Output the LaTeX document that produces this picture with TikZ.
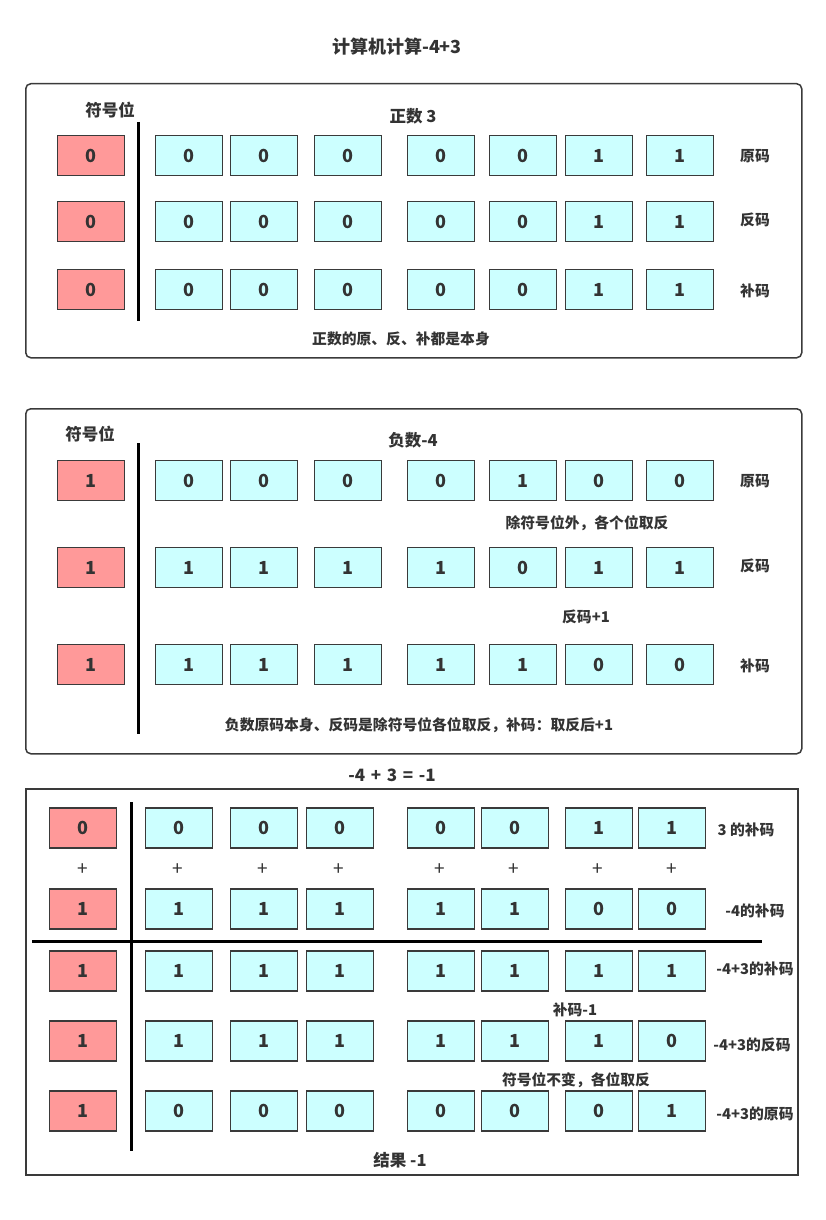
\documentclass[tikz,border=0pt]{standalone}
\usepackage{fontspec}
\setmainfont{Noto Sans CJK SC}
\definecolor{redf}{HTML}{FF9999}
\definecolor{cyanf}{HTML}{CCFFFF}
\definecolor{strk}{HTML}{3A3A3A}
\definecolor{txt}{HTML}{333333}
\tikzset{
  bitbox/.style={draw=strk, line width=1.6pt, minimum width=67pt, minimum height=40pt, inner sep=0pt, text=txt, font=\fontsize{18}{18}\selectfont\bfseries},
  sbox/.style={bitbox, fill=redf},
  dbox/.style={bitbox, fill=cyanf},
  lbl/.style={text=txt, inner sep=0pt, font=\fontsize{14.8}{15}\selectfont\bfseries},
  plus/.style={text=txt, inner sep=0pt, font=\fontsize{19}{19}\selectfont},
  hdr/.style={text=txt, inner sep=0pt, font=\fontsize{16.5}{17}\selectfont\bfseries},
  ttl/.style={text=txt, inner sep=0pt, font=\fontsize{18}{18}\selectfont\bfseries},
  panel/.style={draw=strk, line width=1.5pt, rounded corners=5pt},
  sep/.style={draw=black, line width=3pt},
}
\newcommand{\bitrow}[3]{\foreach \x/\v [count=\i] in {#3} {\node[dbox] (#1-\i) at (\x,#2) {\v};}}
\begin{document}
\begin{tikzpicture}[x=1pt,y=-1pt]
\useasboundingbox (0,0) rectangle (826,1220);
\node[ttl] (title) at (397,47) {计算机计算-4+3};
% ---------- panel 1
\node[panel, minimum width=776pt, minimum height=274pt, anchor=north west] (P1) at (25,83) {};
\node[hdr] (p1sign) at (110,110) {符号位};
\node[hdr] (p1head) at (413,116) {正数 3};
\coordinate (p1vt) at (138,122);
\coordinate (p1vb) at (138,321);
\draw[sep] (p1vt) -- (p1vb);
\node[sbox] (p1a-s) at (91,155.5) {0};
\bitrow{p1a}{155.5}{189/0,264/0,348/0,441/0,523/0,599/1,680/1}
\node[sbox] (p1b-s) at (91,221.5) {0};
\bitrow{p1b}{221.5}{189/0,264/0,348/0,441/0,523/0,599/1,680/1}
\node[sbox] (p1c-s) at (91,289.5) {0};
\bitrow{p1c}{289.5}{189/0,264/0,348/0,441/0,523/0,599/1,680/1}
\node[lbl] (p1l1) at (755,156) {原码};
\node[lbl] (p1l2) at (755,220) {反码};
\node[lbl] (p1l3) at (755,291) {补码};
\node[lbl] (p1note) at (401,339) {正数的原、反、补都是本身};
% ---------- panel 2
\node[panel, minimum width=776pt, minimum height=345pt, anchor=north west] (P2) at (25,408) {};
\node[hdr] (p2sign) at (90,434) {符号位};
\node[hdr] (p2head) at (413,440) {负数-4};
\coordinate (p2vt) at (138,443);
\coordinate (p2vb) at (138,734);
\draw[sep] (p2vt) -- (p2vb);
\node[sbox] (p2a-s) at (91,480.5) {1};
\bitrow{p2a}{480.5}{189/0,264/0,348/0,441/0,523/1,599/0,680/0}
\node[sbox] (p2b-s) at (91,567.5) {1};
\bitrow{p2b}{567.5}{189/1,264/1,348/1,441/1,523/0,599/1,680/1}
\node[sbox] (p2c-s) at (91,664.5) {1};
\bitrow{p2c}{664.5}{189/1,264/1,348/1,441/1,523/1,599/0,680/0}
\node[lbl] (p2l1) at (755,481) {原码};
\node[lbl] (p2l2) at (755,566) {反码};
\node[lbl] (p2l3) at (755,666) {补码};
\node[lbl] (p2n1) at (587,523) {除符号位外，各个位取反};
\node[lbl] (p2n2) at (586,617) {反码+1};
\node[lbl] (p2note) at (419,725) {负数原码本身、反码是除符号位各位取反，补码：取反后+1};
% ---------- panel 3
\node[ttl, font=\fontsize{17}{17}\selectfont\bfseries] (p3head) at (392,775) {-4\,\,+\,\,3\,\,=\,\,-1};
\node[draw=strk, line width=1.5pt, minimum width=772pt, minimum height=386pt, anchor=north west] (P3) at (25,788) {};
\coordinate (p3vt) at (131,802);
\coordinate (p3vb) at (131,1151);
\draw[sep] (p3vt) -- (p3vb);
\coordinate (p3hl) at (32,941);
\coordinate (p3hr) at (762,941);
\draw[sep] (p3hl) -- (p3hr);
\node[sbox] (p3a-s) at (83,828) {0};
\bitrow{p3a}{828}{179/0,264/0,340/0,441/0,515/0,599/1,672/1}
\foreach \x [count=\i] in {83,178,263,339,440,514,598,672} {\node[plus] (plus-\i) at (\x,870) {+};}
\node[sbox] (p3b-s) at (83,909) {1};
\bitrow{p3b}{909}{179/1,264/1,340/1,441/1,515/1,599/0,672/0}
\node[sbox] (p3c-s) at (83,971) {1};
\bitrow{p3c}{971}{179/1,264/1,340/1,441/1,515/1,599/1,672/1}
\node[sbox] (p3d-s) at (83,1041) {1};
\bitrow{p3d}{1041}{179/1,264/1,340/1,441/1,515/1,599/1,672/0}
\node[sbox] (p3e-s) at (83,1111) {1};
\bitrow{p3e}{1111}{179/0,264/0,340/0,441/0,515/0,599/0,672/1}
\node[lbl] (p3l1) at (746,830) {3 的补码};
\node[lbl] (p3l2) at (755,911) {-4的补码};
\node[lbl] (p3l3) at (755,969) {-4+3的补码};
\node[lbl] (p3n1) at (575,1010) {补码-1};
\node[lbl] (p3l4) at (752,1045) {-4+3的反码};
\node[lbl] (p3n2) at (576,1080) {符号位不变，各位取反};
\node[lbl] (p3l5) at (755,1114) {-4+3的原码};
\node[hdr] (p3res) at (400,1160) {结果 -1};
\end{tikzpicture}
\end{document}
